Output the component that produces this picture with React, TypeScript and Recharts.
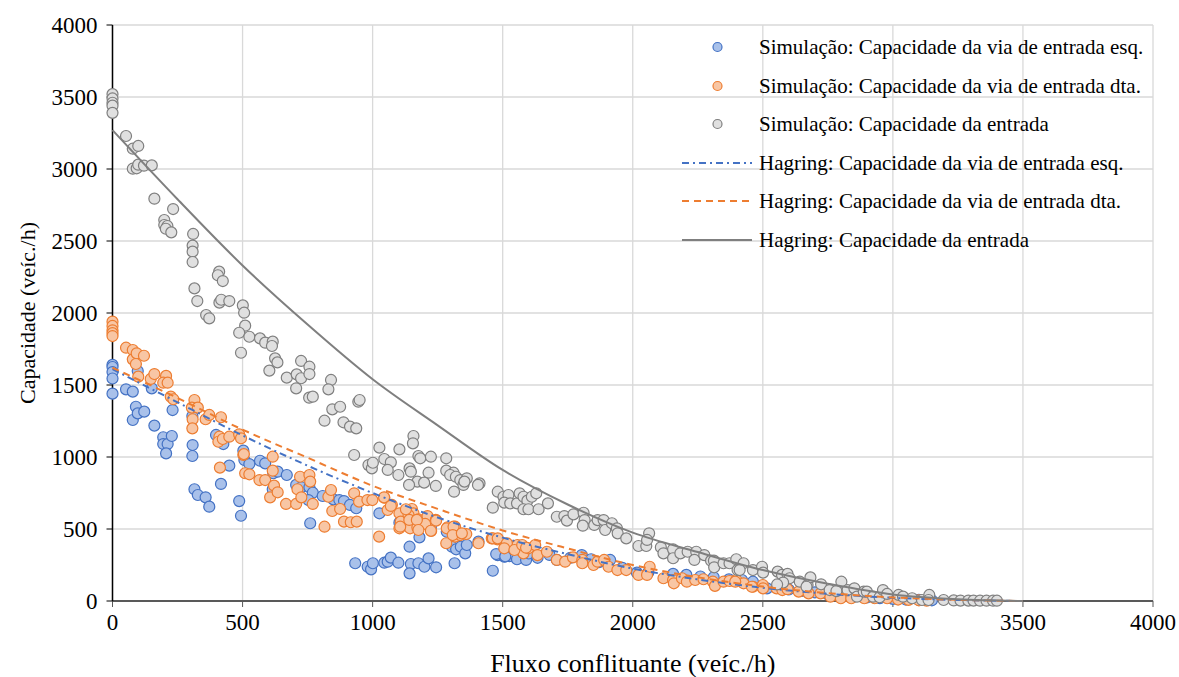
import React from 'react';
import { ScatterChart, Scatter, XAxis, YAxis, CartesianGrid } from 'recharts';

// Simulação: via de entrada esq. [fluxo, capacidade]
const simEsq: [number, number][] = [
  [0, 1640], [0, 1625], [0, 1590], [0, 1545], [0, 1440],
  [52, 1470], [78, 1454], [90, 1349], [78, 1257], [97, 1303], [122, 1315], [97, 1597], [151, 1477],
  [161, 1218], [195, 1137], [195, 1090], [212, 1090], [206, 1025], [228, 1146], [231, 1326],
  [307, 1285], [308, 1083], [307, 1007], [315, 776], [328, 736], [358, 720], [372, 655], [398, 1153],
  [426, 1090], [417, 813], [449, 940], [487, 694], [494, 592], [503, 1044], [507, 979], [526, 951],
  [567, 974], [587, 956], [616, 776], [618, 887], [635, 898], [670, 875], [706, 806], [726, 790],
  [757, 790], [770, 752], [753, 701], [760, 540], [808, 729], [849, 706], [872, 701], [890, 694],
  [913, 667], [937, 644], [933, 262], [981, 238], [994, 220], [1001, 262], [1026, 609], [1045, 266],
  [1058, 273], [1070, 301], [1099, 266], [1103, 544], [1128, 560], [1160, 520],
  [1142, 377], [1147, 257], [1142, 192], [1176, 262], [1199, 238], [1215, 296], [1244, 234],
  [1180, 442], [1224, 516], [1285, 481], [1305, 377], [1315, 262], [1321, 359], [1339, 377],
  [1356, 331], [1362, 389], [1407, 412], [1462, 210], [1481, 319], [1506, 308], [1526, 312],
  [1555, 290], [1590, 285], [1475, 326], [1510, 310], [1600, 330], [1634, 300], [1680, 320],
  [1708, 285], [1760, 300], [1804, 319], [1840, 290], [1870, 270], [1913, 285], [1960, 230],
  [2016, 197], [2060, 200], [2155, 188], [2206, 181], [2260, 170], [2311, 165], [2370, 150],
  [2420, 146], [2462, 134], [2516, 88], [2560, 95], [2600, 80], [2650, 70], [2700, 60], [2750, 45],
  [2800, 35], [2850, 30], [2900, 25], [2950, 20], [3000, 15], [3050, 10], [3100, 8], [3150, 5],
];

// Simulação: via de entrada dta.
const simDta: [number, number][] = [
  [0, 1940], [0, 1910], [0, 1880], [0, 1860], [0, 1840],
  [52, 1759], [78, 1743], [78, 1678], [93, 1720], [90, 1646], [121, 1703], [99, 1558], [147, 1542],
  [161, 1576], [206, 1563], [195, 1516], [212, 1516], [224, 1419], [234, 1401], [315, 1396],
  [305, 1343], [328, 1343], [308, 1262], [307, 1199], [358, 1262], [372, 1292], [417, 1276],
  [411, 1141], [407, 1106], [424, 1125], [449, 1141], [413, 926], [487, 1157], [494, 1130],
  [503, 1014], [505, 1020], [510, 887], [526, 880], [565, 840], [587, 840], [606, 720], [616, 1002],
  [616, 905], [621, 801], [635, 755], [667, 674], [706, 674], [711, 776], [721, 863], [726, 720],
  [757, 875], [760, 829], [770, 674], [815, 516], [830, 724], [840, 771], [845, 625], [875, 639],
  [890, 551], [916, 547], [939, 551], [929, 748], [948, 690], [980, 701], [999, 701], [1025, 447],
  [1045, 717], [1058, 632], [1074, 667], [1103, 609], [1103, 505], [1044, 720], [1070, 660],
  [1108, 551], [1151, 639], [1157, 609], [1138, 597], [1128, 637], [1176, 567], [1211, 590],
  [1243, 563], [1144, 505], [1172, 512], [1202, 535], [1288, 512], [1317, 516], [1106, 516],
  [1141, 563], [1170, 563], [1225, 486], [1285, 505], [1311, 516], [1317, 447], [1337, 458],
  [1360, 465], [1283, 401], [1407, 401], [1458, 435], [1480, 428], [1510, 377], [1522, 389],
  [1542, 377], [1557, 389], [1565, 354], [1580, 331], [1599, 366], [1625, 389], [1634, 319],
  [1670, 342], [1708, 285], [1740, 273], [1770, 303], [1806, 285], [1806, 262], [1849, 250],
  [1865, 273], [1890, 285], [1907, 238], [1941, 215], [1975, 215], [2022, 181], [2055, 181],
  [2065, 238], [2118, 158], [2155, 146], [2158, 123], [2189, 158], [2208, 134], [2240, 146],
  [2272, 151], [2308, 134], [2316, 105], [2349, 134], [2372, 139], [2398, 146], [2426, 123],
  [2462, 99], [2497, 99], [2394, 134], [2458, 99], [2500, 111], [2501, 88], [2553, 88], [2575, 76],
  [2595, 82], [2638, 65], [2676, 53], [2722, 53], [2760, 30], [2800, 19], [2840, 19], [2890, 19],
  [2930, 19], [2978, 19], [3020, 10], [3060, 8], [3100, 5], [3130, 3],
  [1308, 458], [1343, 470], [1462, 435], [1481, 435], [1516, 401], [1506, 366], [1545, 354],
  [1575, 389], [1590, 370], [1244, 558], [1224, 488], [1176, 493],
];

// Simulação: entrada
const simEntrada: [number, number][] = [
  [0, 3520], [0, 3490], [0, 3460], [0, 3440], [0, 3390], [52, 3229], [78, 3141], [99, 3160],
  [78, 3002], [93, 3005], [99, 3030], [121, 3023], [151, 3025], [161, 2794], [233, 2722], [199, 2646],
  [199, 2611], [211, 2604], [205, 2585], [226, 2560], [310, 2549], [308, 2468], [308, 2426],
  [308, 2354], [315, 2171], [326, 2083], [410, 2287], [405, 2262], [424, 2222], [411, 2072],
  [418, 2092], [449, 2083], [501, 2053], [506, 2002], [360, 1986], [372, 1963], [510, 1912],
  [487, 1863], [494, 1724], [526, 1835], [567, 1824], [587, 1794], [616, 1801], [613, 1771],
  [625, 1685], [634, 1657], [603, 1600], [670, 1551], [725, 1667], [708, 1574], [725, 1547],
  [706, 1477], [757, 1627], [757, 1576], [756, 1412], [770, 1419], [840, 1535], [830, 1470],
  [845, 1331], [875, 1349], [815, 1252], [888, 1241], [913, 1211], [937, 1199], [945, 1384],
  [950, 1396], [929, 1014], [984, 944], [997, 921], [1001, 960], [1026, 1065], [1045, 986],
  [1070, 963], [1058, 910], [1099, 875], [1103, 1053], [1157, 1146], [1155, 1095], [1142, 921],
  [1147, 898], [1176, 1007], [1183, 991], [1224, 1002], [1215, 891], [1172, 829], [1198, 822],
  [1140, 806], [1243, 799], [1283, 991], [1283, 905], [1311, 891], [1298, 875], [1320, 863],
  [1337, 840], [1362, 852], [1349, 806], [1353, 829], [1313, 759], [1411, 817], [1405, 806],
  [1481, 759], [1462, 648], [1503, 724], [1522, 736], [1506, 683], [1529, 678], [1555, 678],
  [1565, 748], [1580, 724], [1595, 697], [1580, 637], [1599, 637], [1612, 724], [1629, 748],
  [1638, 637], [1674, 678], [1708, 585], [1737, 590], [1747, 558], [1772, 602], [1811, 613],
  [1815, 562], [1808, 523], [1852, 528], [1865, 562], [1888, 562], [1894, 493], [1920, 540],
  [1939, 505], [1942, 470], [1975, 435], [2022, 382], [2052, 382], [2063, 470], [2055, 424],
  [2108, 373], [2118, 331], [2155, 359], [2155, 297], [2183, 331], [2211, 342], [2244, 342],
  [2237, 285], [2275, 319], [2301, 280], [2312, 280], [2313, 234], [2349, 262], [2372, 262],
  [2398, 290], [2403, 215], [2426, 262], [2411, 215], [2462, 215], [2497, 238], [2501, 197],
  [2557, 204], [2574, 181], [2595, 188], [2603, 158], [2578, 128], [2555, 115], [2642, 134],
  [2672, 111], [2683, 164], [2668, 99], [2724, 116], [2757, 76], [2783, 69], [2802, 134],
  [2826, 76], [2852, 88], [2862, 30], [2888, 65], [2900, 65], [2924, 30], [2949, 26], [2962, 76],
  [2978, 49], [3022, 42], [3039, 30], [3074, 19], [3112, 7], [3140, 42], [3137, 7], [3195, 7],
  [3234, 4], [3260, 3], [3290, 3], [3310, 3], [3335, 2], [3360, 2], [3385, 2], [3400, 2],
];

// Curvas de Hagring
const hagX = [0, 250, 500, 750, 1000, 1250, 1500, 1750, 2000, 2250, 2500, 2750, 3000, 3250, 3500];
const hagEsq = [1610, 1380, 1150, 940, 750, 580, 440, 325, 225, 150, 92, 50, 22, 7, 0];
const hagDta = [1620, 1410, 1190, 995, 800, 640, 490, 365, 250, 165, 100, 55, 25, 8, 0];
const hagEntrada = [3270, 2790, 2330, 1920, 1540, 1220, 910, 670, 475, 340, 215, 120, 45, 12, 0];

const xTicks = [0, 500, 1000, 1500, 2000, 2500, 3000, 3500, 4000];
const yTicks = [0, 500, 1000, 1500, 2000, 2500, 3000, 3500, 4000];

const FONT = "'Liberation Serif', 'DejaVu Serif', serif";

const toPts = (arr: [number, number][]) => arr.map(([x, y]) => ({ x, y }));
const toLine = (ys: number[]) => hagX.map((x, i) => ({ x, y: ys[i] }));

const dot = (fill: string, stroke: string) => (p: any) => (
  <circle cx={p.cx} cy={p.cy} r={5.5} fill={fill} stroke={stroke} strokeWidth={1.2} />
);
const noDot = () => <g />;

const legendItems = [
  { label: 'Simulação: Capacidade da via de entrada esq.', kind: 'dot', fill: '#A9C1EA', stroke: '#4472C4' },
  { label: 'Simulação: Capacidade da via de entrada dta.', kind: 'dot', fill: '#F8C6A4', stroke: '#ED7D31' },
  { label: 'Simulação: Capacidade da entrada', kind: 'dot', fill: '#E0E0E0', stroke: '#7F7F7F' },
  { label: 'Hagring: Capacidade da via de entrada esq.', kind: 'line', stroke: '#4472C4', dash: '7 4 2 4' },
  { label: 'Hagring: Capacidade da via de entrada dta.', kind: 'line', stroke: '#ED7D31', dash: '7 5' },
  { label: 'Hagring: Capacidade da entrada', kind: 'line', stroke: '#7F7F7F', dash: undefined },
];

export default function App() {
  return (
    <div style={{ position: 'absolute', left: 0, top: 0, width: 1179, height: 677, background: '#fff', fontFamily: FONT }}>
      <ScatterChart width={1179} height={677} margin={{ top: 25, right: 26, bottom: 0, left: 0 }} style={{ fontFamily: FONT }}>
        <CartesianGrid stroke="#D9D9D9" strokeWidth={1.3} />
        <XAxis
          type="number"
          dataKey="x"
          domain={[0, 4000]}
          ticks={xTicks}
          height={76}
          axisLine={{ stroke: '#595959', strokeWidth: 2 }}
          tickLine={{ stroke: '#595959' }}
          tickSize={6}
          tickMargin={7}
          tick={{ fill: '#000', fontSize: 23, fontFamily: FONT }}
          label={{ value: 'Fluxo conflituante (veíc./h)', position: 'insideBottom', offset: 5, fill: '#000', fontSize: 26, fontFamily: FONT }}
        />
        <YAxis
          type="number"
          dataKey="y"
          domain={[0, 4000]}
          ticks={yTicks}
          width={112.5}
          axisLine={{ stroke: '#000', strokeWidth: 1.5 }}
          tickLine={{ stroke: '#000' }}
          tickSize={6}
          tickMargin={9}
          tick={{ fill: '#000', fontSize: 23, fontFamily: FONT }}
          label={{ value: 'Capacidade (veíc./h)', angle: -90, position: 'insideLeft', offset: 27, fill: '#000', fontSize: 22, fontFamily: FONT, style: { textAnchor: 'middle' } }}
        />
        <Scatter name="sim esq" data={toPts(simEsq)} shape={dot('#A9C1EA', '#4472C4')} isAnimationActive={false} />
        <Scatter name="sim dta" data={toPts(simDta)} shape={dot('#F8C6A4', '#ED7D31')} isAnimationActive={false} />
        <Scatter name="sim entrada" data={toPts(simEntrada)} shape={dot('#E0E0E0', '#7F7F7F')} isAnimationActive={false} />
        <Scatter
          name="hag esq"
          data={toLine(hagEsq)}
          shape={noDot}
          lineJointType="monotoneX"
          line={{ stroke: '#4472C4', strokeWidth: 2, strokeDasharray: '7 4 2 4', fill: 'none' }}
          isAnimationActive={false}
        />
        <Scatter
          name="hag dta"
          data={toLine(hagDta)}
          shape={noDot}
          lineJointType="monotoneX"
          line={{ stroke: '#ED7D31', strokeWidth: 2, strokeDasharray: '7 5', fill: 'none' }}
          isAnimationActive={false}
        />
        <Scatter
          name="hag entrada"
          data={toLine(hagEntrada)}
          shape={noDot}
          lineJointType="monotoneX"
          line={{ stroke: '#7F7F7F', strokeWidth: 2, fill: 'none' }}
          isAnimationActive={false}
        />
      </ScatterChart>

      {/* Legenda */}
      {legendItems.map((it, i) => {
        const cy = 47 + i * 38.5;
        return (
          <div key={i} style={{ position: 'absolute', left: 680, top: cy - 13, height: 26, display: 'flex', alignItems: 'center', whiteSpace: 'nowrap' }}>
            <svg width={72} height={26} style={{ display: 'block' }}>
              {it.kind === 'dot' ? (
                <circle cx={37.5} cy={13} r={4.5} fill={it.fill} stroke={it.stroke} strokeWidth={1.2} />
              ) : (
                <line x1={2} y1={13} x2={72} y2={13} stroke={it.stroke} strokeWidth={2} strokeDasharray={it.dash} />
              )}
            </svg>
            <span style={{ marginLeft: 7, fontSize: 21, color: '#000', lineHeight: '26px' }}>{it.label}</span>
          </div>
        );
      })}
    </div>
  );
}
